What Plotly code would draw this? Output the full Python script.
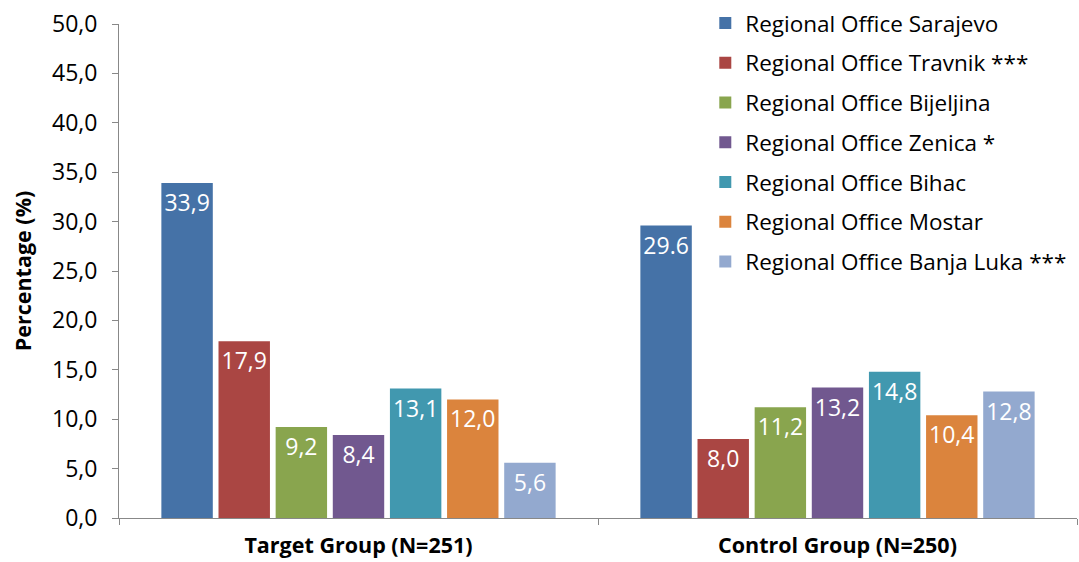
import plotly.graph_objects as go

groups = ["Target Group (N=251)", "Control Group (N=250)"]
offices = [
    "Regional Office Sarajevo",
    "Regional Office Travnik ***",
    "Regional Office Bijeljina",
    "Regional Office Zenica *",
    "Regional Office Bihac",
    "Regional Office Mostar",
    "Regional Office Banja Luka ***",
]
sarajevo = [33.9, 29.6]
travnik = [17.9, 8.0]
bijeljina = [9.2, 11.2]
zenica = [8.4, 13.2]
bihac = [13.1, 14.8]
mostar = [12.0, 10.4]
banja_luka = [5.6, 12.8]
values = [sarajevo, travnik, bijeljina, zenica, bihac, mostar, banja_luka]
labels = [
    ["33,9", "29.6"],
    ["17,9", "8,0"],
    ["9,2", "11,2"],
    ["8,4", "13,2"],
    ["13,1", "14,8"],
    ["12,0", "10,4"],
    ["5,6", "12,8"],
]
colors = ["#4572A7", "#AA4643", "#89A54E", "#71588F", "#4198AF", "#DB843D", "#93A9CF"]

FONT = "Open Sans"

fig = go.Figure()
for i, (name, vals, txt, col) in enumerate(zip(offices, values, labels, colors)):
    fig.add_trace(go.Bar(
        x=groups, y=vals, name=name, text=txt,
        textposition="inside", insidetextanchor="end", textangle=0,
        textfont=dict(color="white", size=23, family=FONT),
        constraintext="none",
        marker=dict(color=col, line=dict(width=0)),
        legendgroup=f"g{i}",
    ))

fig.update_layout(
    width=1079, height=562,
    margin=dict(l=119, r=2, t=24, b=44, autoexpand=False),
    plot_bgcolor="white", paper_bgcolor="white",
    barmode="group", bargap=0.165, bargroupgap=0.1,
    font=dict(family=FONT, color="black"),
    separators=",.",
    legend=dict(
        x=0.612, y=1.045, xanchor="left", yanchor="top",
        font=dict(size=22.5, family=FONT, color="black"),
        traceorder="grouped", tracegroupgap=7.5,
        bgcolor="rgba(0,0,0,0)",
        itemwidth=30,
        maxheight=1.0,
    ),
    showlegend=True,
)
fig.update_yaxes(
    range=[0, 50], dtick=5, tickformat=".1f", automargin=False,
    showgrid=False, zeroline=False,
    showline=True, linecolor="#888888", linewidth=1,
    ticks="outside", ticklen=6, tickcolor="#888888",
    tickfont=dict(size=23, family=FONT),
    ticklabelstandoff=10,
    title=dict(text="<b>Percentage (%)</b>", font=dict(size=21.5, family=FONT), standoff=14),
)
fig.update_xaxes(
    range=[-0.5, 1.5], automargin=False,
    showgrid=False, zeroline=False,
    showline=True, linecolor="#888888", linewidth=1,
    ticks="outside", ticklen=6, tickcolor="#888888", tickson="boundaries",
    tickfont=dict(size=21.5, family=FONT, color="black"),
    ticklabelstandoff=8,
    tickvals=[0, 1], ticktext=["<b>" + g + "</b>" for g in groups],
)

fig.write_html("out.html")
